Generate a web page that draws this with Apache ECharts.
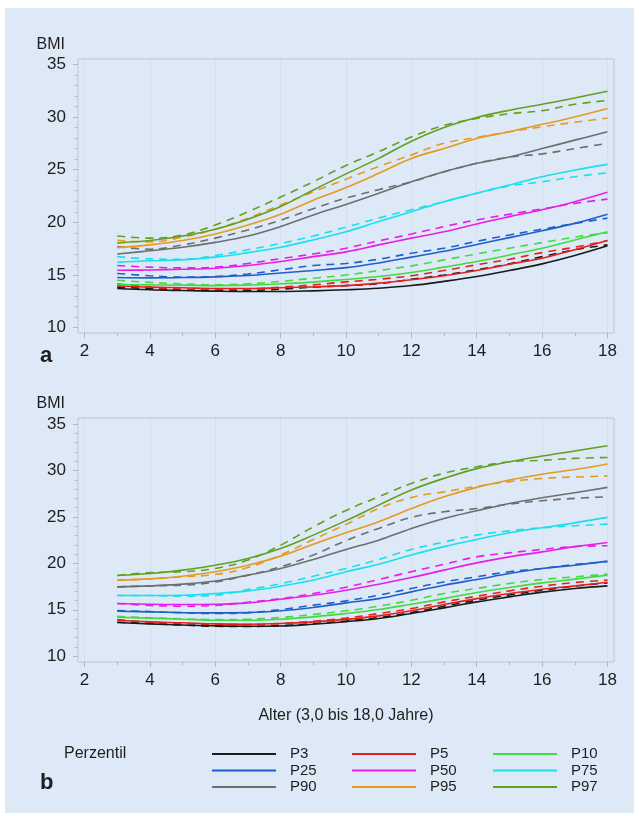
<!DOCTYPE html>
<html>
<head>
<meta charset="utf-8">
<script src="https://cdn.jsdelivr.net/npm/echarts@6/dist/echarts.min.js"></script>
<style>
html,body{margin:0;padding:0;background:#ffffff;width:639px;height:816px;overflow:hidden;}
#bg{position:absolute;left:5px;top:8px;width:629px;height:805px;background:#dde9f6;}
#chart{position:absolute;left:0;top:0;width:639px;height:816px;}
</style>
</head>
<body>
<div id="bg"></div>
<div id="chart"></div>
<script>
// ---- data ----
const ages = [3,4,5,6,7,8,9,10,11,12,13,14,15,16,17,18];
const percentiles = ['P3','P5','P10','P25','P50','P75','P90','P95','P97'];
const colors = ['#1a1a1a','#e8201c','#3fdc3f','#1f5fc8','#e81ee8','#19e0ec','#6e6e6e','#e69a1e','#62a01e'];
const xMajorTicks = [2,4,6,8,10,12,14,16,18];
const xMinorTicks = [3,5,7,9,11,13,15,17];
const yMajorTicks = [10,15,20,25,30,35];
const yMinorTicks = [11,12,13,14,16,17,18,19,21,22,23,24,26,27,28,29,31,32,33,34];

// Panel a – solid
const aP3  = [13.72,13.6,13.53,13.47,13.44,13.44,13.5,13.6,13.75,14.0,14.4,14.86,15.43,16.06,16.85,17.77];
const aP5  = [13.98,13.85,13.8,13.72,13.72,13.8,13.88,14.0,14.23,14.55,14.93,15.43,16.03,16.6,17.4,18.27];
const aP10 = [14.1,14.07,14.04,14.0,14.04,14.17,14.33,14.58,14.86,15.24,15.75,16.28,16.9,17.55,18.33,19.1];
const aP25 = [14.76,14.73,14.76,14.83,14.95,15.2,15.43,15.7,16.15,16.7,17.25,17.9,18.55,19.2,19.9,20.77];
const aP50 = [15.45,15.48,15.55,15.65,15.9,16.28,16.75,17.2,17.86,18.5,19.1,19.85,20.54,21.2,21.96,22.85];
const aP75 = [16.2,16.35,16.44,16.7,17.13,17.64,18.33,19.1,20.07,21.0,21.96,22.76,23.55,24.33,24.96,25.5];
const aP90 = [17.0,17.3,17.64,18.1,18.7,19.6,20.7,21.7,22.76,23.85,24.8,25.6,26.2,27.0,27.8,28.6];
const aP95 = [17.6,17.86,18.27,18.9,19.75,20.77,22.1,23.3,24.65,26.07,27.0,27.96,28.6,29.3,30.0,30.8];
const aP97 = [18.05,18.27,18.7,19.35,20.3,21.5,23.07,24.6,26.07,27.7,29.0,29.95,30.64,31.2,31.8,32.44];
// Panel a – dashed
const aP3d  = [13.85,13.72,13.6,13.53,13.53,13.66,13.85,14.0,14.17,14.6,15.0,15.5,16.06,16.75,17.4,17.86];
const aP5d  = [14.17,13.85,13.66,13.6,13.66,13.85,14.07,14.35,14.6,14.93,15.43,15.97,16.5,17.13,17.64,18.27];
const aP10d = [14.5,14.3,14.17,14.07,14.17,14.4,14.7,15.0,15.43,15.87,16.44,17.0,17.55,18.08,18.6,19.0];
const aP25d = [15.15,14.93,14.8,14.86,15.1,15.5,15.9,16.1,16.5,17.07,17.55,18.2,18.8,19.35,19.9,20.4];
const aP50d = [15.9,15.75,15.68,15.75,16.1,16.56,17.0,17.55,18.24,18.9,19.6,20.23,20.77,21.27,21.8,22.2];
const aP75d = [16.75,16.53,16.5,16.85,17.4,18.0,18.7,19.55,20.4,21.2,21.96,22.76,23.45,23.85,24.33,24.7];
const aP90d = [17.7,17.45,17.86,18.5,19.28,20.2,21.3,22.3,23.1,23.85,24.8,25.6,26.2,26.5,27.0,27.5];
const aP95d = [18.3,18.14,18.6,19.35,20.4,21.65,22.9,24.1,25.3,26.4,27.5,28.06,28.6,29.07,29.5,29.9];
const aP97d = [18.7,18.5,18.8,19.75,21.0,22.4,23.85,25.4,26.7,28.1,29.2,29.85,30.3,30.6,31.2,31.56];

// Panel b – solid
const bP3  = [13.63,13.48,13.37,13.27,13.23,13.25,13.45,13.72,14.06,14.6,15.21,15.85,16.39,16.9,17.3,17.58];
const bP5  = [13.88,13.7,13.6,13.48,13.45,13.52,13.7,13.97,14.35,14.89,15.57,16.2,16.75,17.22,17.58,17.97];
const bP10 = [14.2,14.1,13.99,13.88,13.88,13.99,14.24,14.6,15.03,15.6,16.2,16.86,17.4,17.9,18.3,18.73];
const bP25 = [14.85,14.78,14.7,14.67,14.7,14.89,15.25,15.75,16.2,16.93,17.65,18.26,18.9,19.45,19.8,20.24];
const bP50 = [15.68,15.6,15.57,15.6,15.75,16.14,16.57,17.1,17.76,18.48,19.27,20.05,20.7,21.24,21.8,22.25];
const bP75 = [16.54,16.54,16.57,16.75,17.04,17.54,18.2,19.1,19.9,20.9,21.8,22.57,23.3,23.83,24.36,24.95];
const bP90 = [17.47,17.58,17.76,18.1,18.73,19.45,20.42,21.5,22.5,23.76,24.84,25.66,26.45,27.06,27.6,28.18];
const bP95 = [18.2,18.33,18.62,19.1,19.8,20.78,22.07,23.3,24.47,25.9,27.17,28.18,28.97,29.6,30.1,30.7];
const bP97 = [18.7,18.9,19.27,19.8,20.53,21.6,23.04,24.6,26.27,27.9,29.15,30.2,30.94,31.55,32.1,32.66];
// Panel b – dashed
const bP3d  = [13.66,13.52,13.35,13.23,13.2,13.3,13.52,13.8,14.17,14.7,15.39,16.03,16.6,17.1,17.54,17.9];
const bP5d  = [13.95,13.66,13.52,13.41,13.41,13.52,13.77,14.1,14.6,15.14,15.85,16.46,17.04,17.54,17.94,18.2];
const bP10d = [14.3,14.14,14.02,13.95,13.99,14.17,14.5,14.89,15.39,16.03,16.75,17.3,17.84,18.26,18.55,18.84];
const bP25d = [14.92,14.81,14.67,14.6,14.7,15.03,15.5,15.96,16.57,17.3,18.0,18.55,19.1,19.45,19.88,20.17];
const bP50d = [15.68,15.46,15.39,15.46,15.82,16.2,16.75,17.43,18.26,19.1,19.9,20.7,21.13,21.5,21.8,21.9];
const bP75d = [16.54,16.54,16.46,16.57,17.18,17.8,18.62,19.45,20.42,21.5,22.3,23.04,23.5,23.83,24.05,24.22];
const bP90d = [17.47,17.58,17.65,18.0,18.73,19.63,20.9,22.45,23.76,24.95,25.55,25.9,26.38,26.74,27.0,27.17];
const bP95d = [18.2,18.33,18.55,18.8,19.55,20.9,22.57,24.2,25.9,27.1,27.7,28.3,28.8,29.15,29.3,29.4];
const bP97d = [18.7,19.0,19.1,19.45,20.35,21.96,23.93,25.7,27.17,28.6,29.7,30.4,30.94,31.1,31.3,31.4];

const panelA = {solid:[aP3,aP5,aP10,aP25,aP50,aP75,aP90,aP95,aP97], dashed:[aP3d,aP5d,aP10d,aP25d,aP50d,aP75d,aP90d,aP95d,aP97d]};
const panelB = {solid:[bP3,bP5,bP10,bP25,bP50,bP75,bP90,bP95,bP97], dashed:[bP3d,bP5d,bP10d,bP25d,bP50d,bP75d,bP90d,bP95d,bP97d]};

// ---- chart ----
const FONT = 'Liberation Sans, Arial, sans-serif';
const TXT = '#1e1e1e';
const TICK = '#a9bacd';

function xAxes(g, withName) {
  const main = {
    type:'value', gridIndex:g, min:1.8, max:18.2, position:'bottom',
    axisLine:{show:false},
    axisTick:{show:true, customValues:xMajorTicks, length:5, lineStyle:{color:TICK}},
    axisLabel:{customValues:xMajorTicks, fontSize:17, color:TXT, fontFamily:FONT, margin:10},
    splitLine:{show:true, lineStyle:{color:'rgba(160,180,205,0.18)'}}
  };
  if (withName) {
    main.name = 'Alter (3,0 bis 18,0 Jahre)';
    main.nameLocation = 'middle';
    main.nameGap = 46;
    main.nameTextStyle = {fontSize:16, color:TXT, fontFamily:FONT};
  }
  const minor = {
    type:'value', gridIndex:g, min:1.8, max:18.2, position:'bottom', offset:0,
    axisLine:{show:false},
    axisTick:{show:true, customValues:xMinorTicks, length:3, lineStyle:{color:TICK}},
    axisLabel:{show:false}, splitLine:{show:false}
  };
  return [main, minor];
}
function yAxes(g, min, max) {
  const main = {
    type:'value', gridIndex:g, min:min, max:max, position:'left',
    name:'BMI', nameLocation:'end', nameGap:6,
    nameTextStyle:{fontSize:16, color:TXT, fontFamily:FONT, align:'right', padding:[0,13,0,0]},
    axisLine:{show:false},
    axisTick:{show:true, customValues:yMajorTicks, length:5, lineStyle:{color:TICK}},
    axisLabel:{customValues:yMajorTicks, fontSize:17, color:TXT, fontFamily:FONT, margin:12},
    splitLine:{show:false}
  };
  const minor = {
    type:'value', gridIndex:g, min:min, max:max, position:'left', offset:0,
    axisLine:{show:false},
    axisTick:{show:true, customValues:yMinorTicks, length:3, lineStyle:{color:TICK}},
    axisLabel:{show:false}, splitLine:{show:false}
  };
  return [main, minor];
}

const series = [];
function addPanel(panel, axisIdx) {
  percentiles.forEach((p, i) => {
    series.push({
      type:'line', name:p, xAxisIndex:axisIdx, yAxisIndex:axisIdx,
      data: ages.map((a, k) => [a, panel.dashed[i][k]]),
      smooth:0.4, showSymbol:false, symbol:'none', silent:true,
      lineStyle:{color:colors[i], width:1.6, type:[8,6]}, itemStyle:{color:colors[i]}, z:2
    });
    series.push({
      type:'line', name:p, xAxisIndex:axisIdx, yAxisIndex:axisIdx,
      data: ages.map((a, k) => [a, panel.solid[i][k]]),
      smooth:0.4, showSymbol:false, symbol:'none', silent:true,
      lineStyle:{color:colors[i], width:1.6}, itemStyle:{color:colors[i]}, z:3
    });
  });
}
addPanel(panelA, 0);
addPanel(panelB, 2);

function legendCol(names, left) {
  return {
    orient:'vertical', left:left, top:741, itemWidth:64, itemHeight:2, itemGap:0.5,
    icon:'rect', selectedMode:false, data:names,
    textStyle:{fontSize:15, color:TXT, fontFamily:FONT, lineHeight:16, padding:[0,0,0,9]}
  };
}

const option = {
  backgroundColor:'transparent',
  animation:false,
  title:[
    {text:'a', left:35, top:340, textStyle:{fontSize:22, fontWeight:'bold', color:TXT, fontFamily:FONT}},
    {text:'b', left:35, top:767, textStyle:{fontSize:22, fontWeight:'bold', color:TXT, fontFamily:FONT}},
    {text:'Perzentil', left:59, top:741, textStyle:{fontSize:16, fontWeight:'normal', color:TXT, fontFamily:FONT}}
  ],
  grid:[
    {left:78, top:59, width:536, height:274, show:true, borderColor:'#b7c7d9', borderWidth:1, backgroundColor:'transparent'},
    {left:78, top:418, width:536, height:244, show:true, borderColor:'#b7c7d9', borderWidth:1, backgroundColor:'transparent'}
  ],
  xAxis:[...xAxes(0,false), ...xAxes(1,true)],
  yAxis:[...yAxes(0,9.5,35.5), ...yAxes(1,9.38,35.65)],
  legend:[
    legendCol(['P3','P25','P90'], 207),
    legendCol(['P5','P50','P95'], 347),
    legendCol(['P10','P75','P97'], 488)
  ],
  series:series
};

const chart = echarts.init(document.getElementById('chart'), null, {renderer:'canvas'});
chart.setOption(option);
</script>
</body>
</html>
